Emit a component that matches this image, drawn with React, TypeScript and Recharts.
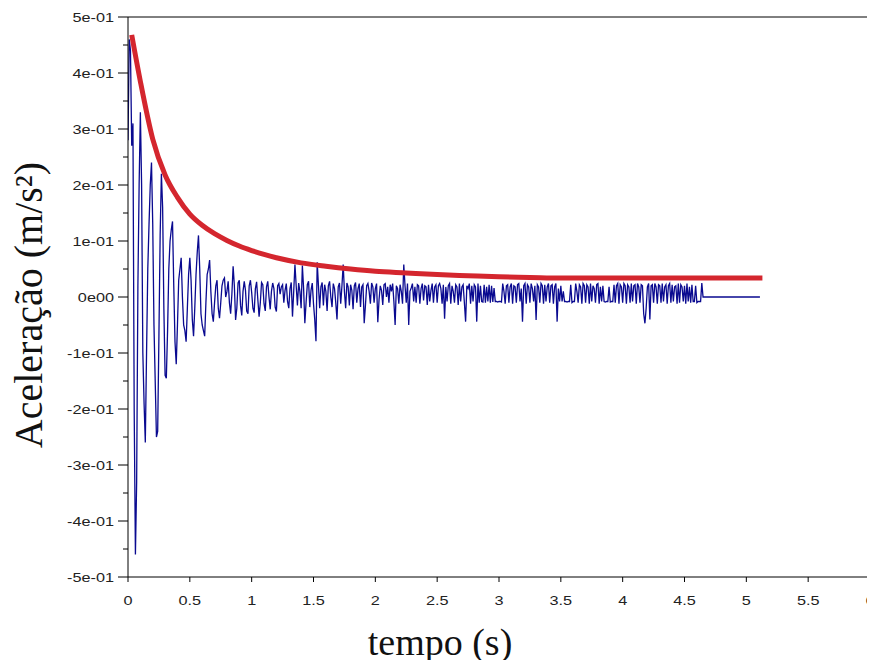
import React from "react";
import { LineChart, Line, XAxis, YAxis, ReferenceLine } from "recharts";

// Time grid of the measured acceleration signal (s)
const blueStep = 0.01;
// Measured acceleration (m/s^2), one value every 0.01 s from 0 to 4.65 s
const blueValues: number[] = [
  // 0.00 - 0.79 damped oscillation
  0.28, 0.46, 0.44, 0.27, 0.31, -0.2, -0.46, -0.33, 0.02, 0.2,
  0.33, 0.2, -0.1, -0.19, -0.26, -0.1, 0.05, 0.13, 0.2, 0.24,
  0.13, -0.05, -0.15, -0.25, -0.24, -0.07, 0.11, 0.22, 0.16, -0.02,
  -0.14, -0.145, -0.06, 0.05, 0.1, 0.12, 0.135, 0.02, -0.08, -0.12,
  -0.05, 0.03, 0.05, 0.07, 0.0, -0.05, -0.06, -0.08, -0.02, 0.04,
  0.07, 0.03, -0.04, -0.07, -0.02, 0.04, 0.08, 0.11, 0.05, -0.03,
  -0.05, -0.06, -0.07, -0.01, 0.04, 0.05, 0.066, 0.01, -0.03, -0.044,
  -0.01, 0.02, 0.03, -0.02, -0.038, -0.01, 0.02, 0.03, 0.034, 0.0,
  // 0.80 - 1.99
  0.01, 0.028, -0.01, -0.03, 0.005, 0.055, 0.02, -0.041, -0.02, 0.025,
  0.03, -0.015, -0.033, 0.01, 0.028, 0.012, -0.025, -0.03, 0.02, 0.03,
  0.008, -0.02, -0.028, 0.015, 0.027, -0.005, -0.035, -0.01, 0.026, 0.022,
  -0.012, -0.025, 0.018, 0.028, 0.0, -0.022, 0.01, 0.025, 0.015, -0.018,
  -0.026, 0.02, 0.024, 0.005, 0.018, 0.022, -0.01, 0.012, 0.024, -0.008,
  -0.02, 0.015, 0.026, -0.035, 0.01, 0.058, 0.02, -0.015, 0.025, 0.01,
  -0.02, 0.056, 0.015, -0.047, -0.01, 0.022, 0.028, -0.018, 0.012, 0.025,
  -0.012, -0.04, -0.079, 0.062, 0.02, -0.02, 0.018, 0.026, -0.015, 0.022,
  0.01, -0.025, 0.02, 0.028, 0.0, -0.018, 0.024, 0.015, -0.01, -0.04,
  0.018, 0.025, -0.012, 0.02, 0.058, 0.01, -0.02, 0.025, 0.018, -0.015,
  0.022, 0.012, -0.022, 0.02, 0.026, -0.01, 0.015, 0.024, -0.018, 0.018,
  0.022, -0.047, -0.015, 0.02, 0.024, 0.01, -0.012, 0.025, 0.018, -0.01,
  // 2.00 - 2.99
  0.015, 0.024, -0.045, -0.005, 0.02, 0.012, -0.014, 0.022, 0.024, 0.0,
  0.018, -0.01, 0.022, 0.01, 0.024, -0.008, -0.05, 0.02, 0.015, -0.012,
  0.022, 0.01, -0.012, 0.058, 0.02, -0.01, 0.024, -0.05, 0.01, 0.016,
  0.024, -0.008, 0.018, -0.01, 0.022, 0.02, -0.012, 0.015, 0.024, -0.006,
  0.02, 0.018, -0.014, 0.022, -0.008, 0.012, 0.024, -0.01, 0.018, 0.022,
  -0.01, 0.02, 0.024, 0.015, -0.012, 0.022, -0.039, 0.018, -0.008, 0.02,
  0.024, -0.012, 0.02, 0.01, -0.01, 0.022, 0.018, -0.014, 0.024, -0.008,
  0.018, 0.022, -0.01, -0.044, 0.02, 0.015, 0.024, -0.012, 0.02, -0.008,
  0.022, 0.018, -0.044, 0.024, -0.01, 0.02, -0.008, -0.009, 0.022, -0.01,
  0.018, -0.008, 0.022, -0.01, 0.02, -0.009, 0.016, -0.008, -0.008, -0.009,
  // 3.00 - 3.99
  -0.008, -0.008, -0.009, 0.024, 0.01, -0.012, 0.02, 0.022, -0.01, 0.018,
  0.024, -0.012, 0.02, 0.018, -0.01, 0.022, 0.024, -0.008, 0.015, -0.044,
  0.02, 0.024, -0.012, 0.022, 0.018, -0.01, 0.024, 0.015, -0.008, 0.02,
  -0.041, 0.022, 0.018, -0.01, 0.024, 0.02, -0.012, 0.022, -0.008, 0.018,
  0.024, -0.01, 0.02, 0.022, -0.012, 0.018, 0.024, -0.044, 0.015, -0.008,
  0.02, -0.008, 0.01, -0.008, -0.008, -0.009, -0.008, -0.008, 0.022, -0.01,
  -0.008, -0.008, 0.024, 0.01, -0.01, 0.022, 0.018, -0.012, 0.024, 0.02,
  -0.01, 0.022, 0.018, -0.012, 0.024, -0.008, 0.02, 0.015, -0.01, 0.022,
  0.024, -0.012, 0.018, -0.008, 0.02, -0.008, -0.009, -0.008, -0.008, 0.018,
  -0.009, -0.008, -0.008, 0.022, -0.01, 0.02, 0.024, -0.012, 0.022, 0.018,
  // 4.00 - 4.65
  -0.01, 0.024, 0.02, -0.012, 0.022, 0.018, -0.01, 0.024, -0.008, 0.02,
  0.022, -0.012, 0.024, 0.018, -0.01, 0.022, 0.02, -0.03, -0.047, -0.02,
  0.018, 0.024, -0.04, 0.02, 0.022, -0.01, 0.024, 0.018, -0.012, 0.022,
  0.02, -0.01, 0.024, -0.008, 0.018, 0.022, -0.012, 0.02, 0.024, -0.01,
  0.022, -0.008, 0.018, 0.02, -0.012, 0.024, -0.01, 0.022, 0.018, -0.008,
  0.02, -0.012, 0.024, -0.008, 0.018, -0.01, 0.022, -0.008, -0.008, 0.02,
  -0.01, -0.008, -0.008, -0.008, 0.025, 0.0,
];
// Flat tail after the signal ends
const tailTimes = [4.66, 5.11];
const tailValues = [0.0, 0.0];

// Envelope (red) curve
const redTimes = [0.03, 0.1, 0.2, 0.3, 0.4, 0.5, 0.6, 0.7, 0.8, 0.9, 1.0, 1.1, 1.2, 1.4, 1.6, 1.8, 2.0, 2.25, 2.5, 2.75, 3.0, 3.25, 3.5, 4.0, 4.5, 5.13];
const redValues = [0.468, 0.385, 0.282, 0.218, 0.178, 0.148, 0.128, 0.113, 0.101, 0.091, 0.083, 0.076, 0.07, 0.061, 0.055, 0.05, 0.046, 0.043, 0.04, 0.038, 0.036, 0.035, 0.034, 0.034, 0.034, 0.034];

// Axis ticks
const xTicks = [0, 0.5, 1, 1.5, 2, 2.5, 3, 3.5, 4, 4.5, 5, 5.5, 6];
const xTickLabels = ["0", "0.5", "1", "1.5", "2", "2.5", "3", "3.5", "4", "4.5", "5", "5.5", "6"];
const yMajorTicks = [0.5, 0.4, 0.3, 0.2, 0.1, 0, -0.1, -0.2, -0.3, -0.4, -0.5];
const yMajorLabels = ["5e-01", "4e-01", "3e-01", "2e-01", "1e-01", "0e00", "-1e-01", "-2e-01", "-3e-01", "-4e-01", "-5e-01"];
const yMinorTicks = [0.45, 0.35, 0.25, 0.15, 0.05, -0.05, -0.15, -0.25, -0.35, -0.45];

const blueData = [
  ...blueValues.map((v, i) => ({ t: Math.round(i * blueStep * 100) / 100, v })),
  ...tailTimes.map((t, i) => ({ t, v: tailValues[i] })),
];
const redData = redTimes.map((t, i) => ({ t, v: redValues[i] }));
const yAllTicks = [...yMajorTicks, ...yMinorTicks].sort((a, b) => b - a);

const W = 875;
const H = 668;
const AXIS_X = 128;
const AXIS_BOTTOM = 577;
const TICK_FONT = "'Liberation Sans', Arial, sans-serif";
const TITLE_FONT = "'Liberation Serif', 'Times New Roman', serif";

const YTick = (props: any) => {
  const { y, payload } = props;
  const v = payload.value;
  const idx = yMajorTicks.findIndex((m) => Math.abs(m - v) < 1e-9);
  const major = idx >= 0;
  return (
    <g>
      <line x1={AXIS_X - (major ? 10 : 5)} x2={AXIS_X} y1={y} y2={y} stroke="#000" strokeWidth={1} />
      {major && (
        <text
          transform={`translate(${AXIS_X - 14},${y + 4.5}) scale(1.25,1)`}
          textAnchor="end"
          fontFamily={TICK_FONT}
          fontSize={13}
          fill="#222"
        >
          {yMajorLabels[idx]}
        </text>
      )}
    </g>
  );
};

const XTick = (props: any) => {
  const { x, payload } = props;
  const idx = xTicks.findIndex((m) => Math.abs(m - payload.value) < 1e-9);
  return (
    <g>
      <line x1={x} x2={x} y1={AXIS_BOTTOM} y2={AXIS_BOTTOM + 5} stroke="#000" strokeWidth={1} />
      <text
        transform={`translate(${x},${AXIS_BOTTOM + 28}) scale(1.25,1)`}
        textAnchor="middle"
        fontFamily={TICK_FONT}
        fontSize={13}
        fill="#222"
      >
        {xTickLabels[idx]}
      </text>
    </g>
  );
};

export default function App() {
  return (
    <div
      style={{
        position: "relative",
        width: W,
        height: H,
        margin: -8,
        background: "#fff",
        overflow: "hidden",
      }}
    >
      <LineChart width={W} height={H} margin={{ top: 17, right: 5, bottom: 0, left: 0 }}>
        <XAxis
          type="number"
          dataKey="t"
          domain={[0, 6]}
          ticks={xTicks}
          allowDataOverflow
          height={91}
          tickLine={false}
          tick={<XTick />}
          axisLine={{ stroke: "#000", strokeWidth: 1 }}
          interval={0}
        />
        <YAxis
          type="number"
          dataKey="v"
          domain={[-0.5, 0.5]}
          ticks={yAllTicks}
          allowDataOverflow
          width={128}
          tickLine={false}
          tick={<YTick />}
          axisLine={{ stroke: "#000", strokeWidth: 1 }}
          interval={0}
        />
        <ReferenceLine y={0.5} stroke="#000" strokeWidth={1} />
        <ReferenceLine x={6} stroke="#000" strokeWidth={1} />
        <Line
          data={blueData}
          dataKey="v"
          type="linear"
          stroke="#0a0a90"
          strokeWidth={1.3}
          dot={false}
          isAnimationActive={false}
        />
        <Line
          data={redData}
          dataKey="v"
          type="monotone"
          stroke="#d4262e"
          strokeWidth={5}
          dot={false}
          isAnimationActive={false}
        />
      </LineChart>
      <svg
        width={W}
        height={H}
        style={{ position: "absolute", left: 0, top: 0, pointerEvents: "none" }}
      >
        <text x={440} y={655} textAnchor="middle" fontFamily={TITLE_FONT} fontSize={38} fill="#111">
          tempo (s)
        </text>
        <text
          transform="translate(42,305) rotate(-90)"
          textAnchor="middle"
          fontFamily={TITLE_FONT}
          fontSize={40}
          fill="#111"
        >
          Aceleração (m/s²)
        </text>
      </svg>
    </div>
  );
}
